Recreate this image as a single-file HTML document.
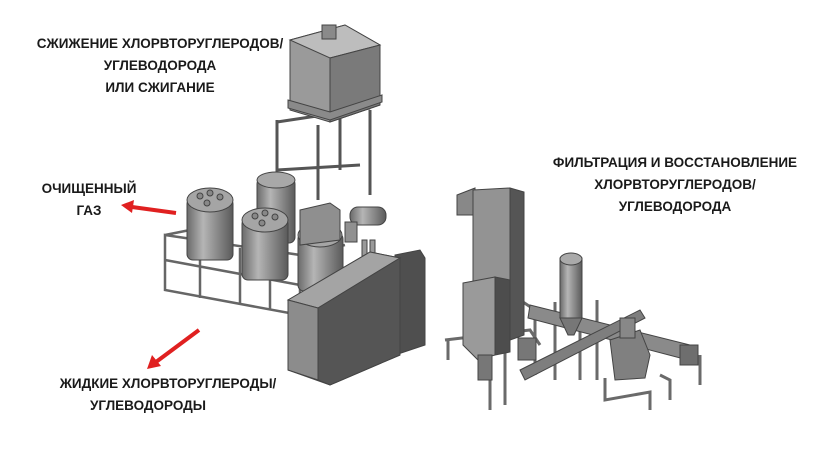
<!DOCTYPE html>
<html><head><meta charset="utf-8"><style>
html,body{margin:0;padding:0;background:#fff;width:829px;height:468px;overflow:hidden}
svg{display:block}
text{font-family:"Liberation Sans","DejaVu Sans",sans-serif;font-weight:bold;font-size:13.5px;fill:#1a1a1a}
</style></head><body>
<svg width="829" height="468" viewBox="0 0 829 468" xmlns="http://www.w3.org/2000/svg">
<defs>
<linearGradient id="cyl" x1="0" x2="1"><stop offset="0" stop-color="#6a6a6a"/><stop offset="0.35" stop-color="#b5b5b5"/><stop offset="1" stop-color="#5a5a5a"/></linearGradient>
</defs>
<text x="160" y="48" text-anchor="middle">СЖИЖЕНИЕ ХЛОРВТОРУГЛЕРОДОВ/</text>
<text x="160" y="70" text-anchor="middle">УГЛЕВОДОРОДА</text>
<text x="160" y="92" text-anchor="middle">ИЛИ СЖИГАНИЕ</text>
<text x="89" y="193" text-anchor="middle">ОЧИЩЕННЫЙ</text>
<text x="89" y="215" text-anchor="middle">ГАЗ</text>
<text x="675" y="167" text-anchor="middle">ФИЛЬТРАЦИЯ И ВОССТАНОВЛЕНИЕ</text>
<text x="675" y="189" text-anchor="middle">ХЛОРВТОРУГЛЕРОДОВ/</text>
<text x="675" y="211" text-anchor="middle">УГЛЕВОДОРОДА</text>
<text x="168" y="388" text-anchor="middle">ЖИДКИЕ ХЛОРВТОРУГЛЕРОДЫ/</text>
<text x="148" y="410" text-anchor="middle">УГЛЕВОДОРОДЫ</text>
<line x1="176" y1="213" x2="132" y2="207" stroke="#e02020" stroke-width="4"/>
<polygon points="121,205 134,200 132,213" fill="#e02020"/>
<line x1="199" y1="330" x2="156" y2="362" stroke="#e02020" stroke-width="4"/>
<polygon points="147,369 152,355 161,366" fill="#e02020"/>
<g stroke="#444" stroke-width="1">
<g fill="none" stroke="#555" stroke-width="3">
<path d="M277 120 L277 205 M318 125 L318 200 M370 110 L370 195 M340 100 L340 170 M277 122 L370 108 M277 170 L360 165"/>
</g>
<polygon points="290,40 345,25 380,45 380,105 330,122 290,110" fill="#9a9a9a"/>
<polygon points="290,40 345,25 380,45 330,58" fill="#bdbdbd"/>
<polygon points="330,58 380,45 380,105 330,122" fill="#7a7a7a"/>
<rect x="322" y="25" width="14" height="14" fill="#8a8a8a"/>
<polygon points="288,100 330,112 382,95 382,102 330,120 288,108" fill="#8a8a8a"/>
<g fill="none" stroke="#666" stroke-width="2.5">
<path d="M165 235 L300 255 L300 315 L165 290 Z M165 260 L300 285 M200 240 L200 298 M240 248 L240 304 M270 252 L270 310 M165 235 L215 225 M300 255 L345 245"/>
</g>
<rect x="257" y="178" width="38" height="65" rx="6" fill="url(#cyl)"/>
<ellipse cx="276" cy="180" rx="19" ry="8" fill="#a8a8a8"/>
<rect x="187" y="198" width="46" height="62" rx="6" fill="url(#cyl)"/>
<ellipse cx="210" cy="200" rx="23" ry="12" fill="#a5a5a5"/>
<rect x="242" y="218" width="46" height="62" rx="6" fill="url(#cyl)"/>
<ellipse cx="265" cy="220" rx="23" ry="12" fill="#a5a5a5"/>
<rect x="298" y="233" width="45" height="58" rx="6" fill="url(#cyl)"/>
<ellipse cx="320" cy="235" rx="22" ry="12" fill="#a5a5a5"/>
<g fill="#888"><circle cx="200" cy="196" r="3"/><circle cx="210" cy="193" r="3"/><circle cx="220" cy="197" r="3"/><circle cx="207" cy="203" r="3"/>
<circle cx="255" cy="216" r="3"/><circle cx="265" cy="213" r="3"/><circle cx="275" cy="217" r="3"/><circle cx="262" cy="223" r="3"/>
<circle cx="310" cy="231" r="3"/><circle cx="320" cy="228" r="3"/><circle cx="330" cy="232" r="3"/><circle cx="317" cy="238" r="3"/></g>
<polygon points="300,210 330,203 340,210 340,240 300,245" fill="#8f8f8f"/>
<rect x="350" y="207" width="36" height="18" rx="8" fill="url(#cyl)"/>
<rect x="345" y="222" width="12" height="20" fill="#909090"/>
<rect x="362" y="240" width="5" height="18" fill="#999"/><rect x="370" y="240" width="5" height="18" fill="#999"/>
<polygon points="395,255 420,250 425,258 425,345 395,355" fill="#4f4f4f"/>
<polygon points="288,300 370,252 400,258 400,355 330,385 288,370" fill="#777"/>
<polygon points="288,300 370,252 400,258 318,308" fill="#a4a4a4"/>
<polygon points="318,308 400,258 400,355 330,385 318,380" fill="#555"/>
<polygon points="288,300 318,308 318,380 288,370" fill="#8c8c8c"/>
</g>
<g stroke="#444" stroke-width="1">
<g fill="none" stroke="#6a6a6a" stroke-width="3">
<path d="M445 340 L530 330 L540 345 M448 340 L448 360 M490 345 L490 410 M505 345 L505 405 M520 300 L535 310 L535 375 M555 302 L555 380 M580 302 L580 380 M597 300 L597 380 M605 378 L605 400 L650 392 L650 410 M660 375 L670 380 L670 400 M700 355 L700 385"/>
</g>
<polygon points="530,305 690,345 688,360 528,318" fill="#8a8a8a"/>
<polygon points="520,370 640,310 645,318 525,380" fill="#7e7e7e"/>
<rect x="680" y="345" width="18" height="20" fill="#6e6e6e"/>
<polygon points="457,195 475,188 475,215 457,215" fill="#888"/>
<polygon points="473,190 510,188 510,340 473,345" fill="#939393"/>
<polygon points="510,188 524,192 524,335 510,340" fill="#555"/>
<polygon points="463,283 495,277 495,355 478,360 463,345" fill="#9a9a9a"/>
<polygon points="495,277 510,280 510,352 495,355" fill="#4d4d4d"/>
<rect x="478" y="355" width="14" height="25" fill="#777"/>
<rect x="560" y="258" width="22" height="60" fill="url(#cyl)"/>
<ellipse cx="571" cy="259" rx="11" ry="6" fill="#aaa"/>
<polygon points="560,318 582,318 574,335 568,335" fill="#777"/>
<rect x="518" y="338" width="18" height="22" fill="#777"/>
<polygon points="610,340 640,330 650,355 645,378 615,380" fill="#808080"/>
<rect x="620" y="318" width="15" height="20" fill="#888"/>
</g>
</svg>
</body></html>
